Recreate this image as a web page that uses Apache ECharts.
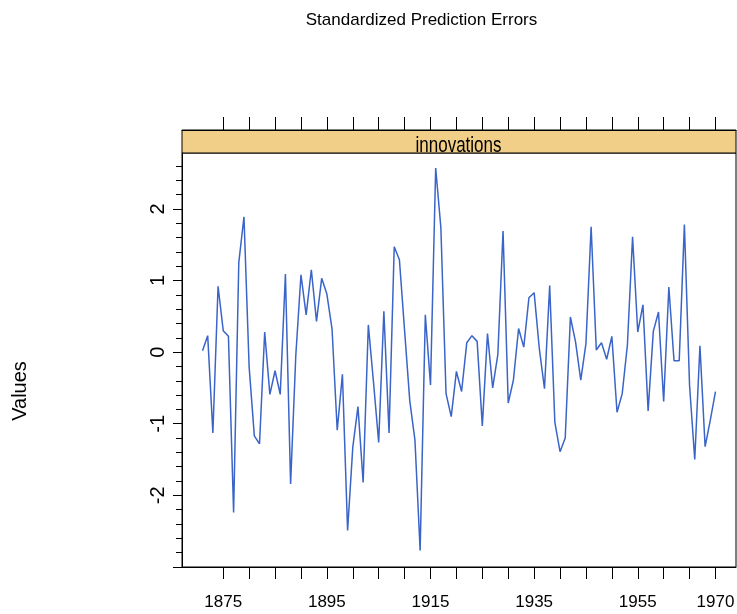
<!DOCTYPE html>
<html>
<head>
<meta charset="utf-8">
<title>Standardized Prediction Errors</title>
<script src="https://cdn.jsdelivr.net/npm/echarts@6/dist/echarts.min.js"></script>
<style>
  html, body { margin: 0; padding: 0; background: #fff; }
  #chart { width: 737px; height: 614px; }
</style>
</head>
<body>
<div id="chart"></div>
<script>
// years 1871..1970
const years = [];
for (let y = 1871; y <= 1970; y++) years.push(y);

// standardized innovations
const innovations = [
  0.02, 0.23, -1.13, 0.92, 0.30, 0.22, -2.24, 1.25, 1.89, -0.21,
  -1.17, -1.28, 0.28, -0.59, -0.26, -0.59, 1.09, -1.84, -0.05, 1.08,
  0.52, 1.15, 0.43, 1.03, 0.81, 0.32, -1.09, -0.31, -2.49, -1.33,
  -0.76, -1.82, 0.38, -0.42, -1.26, 0.57, -1.13, 1.47, 1.29, 0.30,
  -0.68, -1.23, -2.77, 0.52, -0.46, 2.57, 1.74, -0.58, -0.90, -0.27,
  -0.55, 0.13, 0.23, 0.15, -1.03, 0.26, -0.50, -0.03, 1.69, -0.71,
  -0.39, 0.33, 0.07, 0.76, 0.83, 0.05, -0.51, 0.93, -0.98, -1.39,
  -1.20, 0.49, 0.14, -0.39, 0.12, 1.75, 0.03, 0.13, -0.10, 0.22,
  -0.84, -0.58, 0.10, 1.61, 0.28, 0.66, -0.82, 0.29, 0.56, -0.69,
  0.91, -0.12, -0.12, 1.78, -0.47, -1.50, 0.09, -1.32, -0.95, -0.55
];

// axis ticks / labels
const xTicks = [1875, 1880, 1885, 1890, 1895, 1900, 1905, 1910, 1915, 1920,
  1925, 1930, 1935, 1940, 1945, 1950, 1955, 1960, 1965, 1970];
const xLabels = [1875, 1895, 1915, 1935, 1955, 1970];
const yMajorTicks = [-3, -2, -1, 0, 1, 2];
const yLabels = [-2, -1, 0, 1, 2];

// minor ticks every 0.2
const yMinorTicks = [];
for (let i = -15; i <= 13; i++) yMinorTicks.push(Math.round(i * 2) / 10);

const xMin = 1867.04, xMax = 1973.96;
const yMin = -3.0, yMax = 2.78;

const font = "'Liberation Sans', Arial, sans-serif";

const chart = echarts.init(document.getElementById('chart'));
chart.setOption({
  animation: false,
  backgroundColor: '#fff',
  grid: [
    {
      left: 182, right: 1, top: 153, bottom: 47,
      outerBoundsMode: 'none', containLabel: false,
      show: true, borderColor: '#000', borderWidth: 1, backgroundColor: '#fff'
    },
    {
      // strip
      left: 182, right: 1, top: 130, height: 23,
      outerBoundsMode: 'none', containLabel: false,
      show: true, borderColor: '#000', borderWidth: 1, backgroundColor: '#F2CF88'
    }
  ],
  xAxis: [
    {
      gridIndex: 0,
      type: 'value',
      min: xMin, max: xMax,
      axisLine: { show: true, onZero: false, lineStyle: { color: '#000', width: 1 } },
      axisTick: { show: true, customValues: xTicks, length: 12, lineStyle: { color: '#000', width: 1 } },
      axisLabel: {
        customValues: xLabels, margin: 27,
        formatter: (v) => String(v),
        color: '#000', fontSize: 17, fontFamily: font
      },
      splitLine: { show: false }
    },
    {
      gridIndex: 1,
      type: 'value',
      position: 'top',
      min: xMin, max: xMax,
      axisLine: { show: true, onZero: false, lineStyle: { color: '#000', width: 1 } },
      axisTick: { show: true, customValues: xTicks, length: 13, lineStyle: { color: '#000', width: 1 } },
      axisLabel: { show: false },
      splitLine: { show: false }
    }
  ],
  yAxis: [
    {
      gridIndex: 0,
      type: 'value',
      min: yMin, max: yMax,
      axisLine: { show: true, onZero: false, lineStyle: { color: '#000', width: 1 } },
      axisTick: { show: true, customValues: yMajorTicks, length: 9, lineStyle: { color: '#000', width: 1 } },
      axisLabel: {
        customValues: yLabels, rotate: 90, margin: 14,
        formatter: (v) => String(v),
        color: '#000', fontSize: 20, fontFamily: font
      },
      splitLine: { show: false }
    },
    {
      gridIndex: 0,
      type: 'value',
      position: 'left',
      min: yMin, max: yMax,
      axisLine: { show: false },
      axisTick: { show: true, customValues: yMinorTicks, length: 6, lineStyle: { color: '#000', width: 1 } },
      axisLabel: { show: false },
      splitLine: { show: false }
    },
    {
      gridIndex: 1,
      type: 'value',
      min: 0, max: 1,
      show: false
    }
  ],
  graphic: [
    {
      type: 'text', x: 421.5, y: 20,
      style: {
        text: 'Standardized Prediction Errors', fill: '#000',
        font: '17px ' + font, textAlign: 'center', textVerticalAlign: 'middle'
      }
    },
    {
      type: 'text', x: 458.5, y: 146, z: 10, scaleY: 1.25,
      style: {
        text: 'innovations', fill: '#000',
        font: '17px ' + font, textAlign: 'center', textVerticalAlign: 'middle'
      }
    },
    {
      type: 'text', x: 20, y: 391, rotation: Math.PI / 2,
      style: {
        text: 'Values', fill: '#000',
        font: '20px ' + font, textAlign: 'center', textVerticalAlign: 'middle'
      }
    }
  ],
  series: [
    {
      type: 'line',
      xAxisIndex: 0,
      yAxisIndex: 0,
      showSymbol: false,
      lineStyle: { color: '#3A64C8', width: 1.5 },
      data: years.map((yr, i) => [yr, innovations[i]])
    }
  ]
});
</script>
</body>
</html>
